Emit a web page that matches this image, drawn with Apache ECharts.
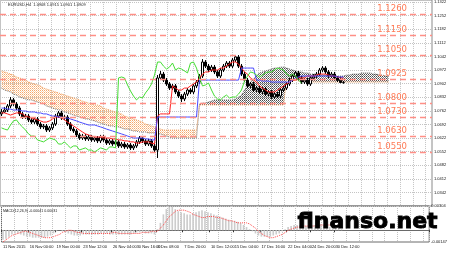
<!DOCTYPE html>
<html><head><meta charset="utf-8">
<script src="https://cdn.jsdelivr.net/npm/echarts@6/dist/echarts.min.js"></script>
<style>html,body{margin:0;padding:0;background:#fff}#c{width:450px;height:253px}</style>
</head><body><div id="c"></div>
<script>
// ---- price candles (EURUSD H4) ----
const open = [1.0746,1.0756,1.0766,1.0787,1.0818,1.0797,1.0776,1.0746,1.0730,1.0735,
1.0715,1.0704,1.0720,1.0694,1.0679,1.0684,1.0663,1.0674,1.0694,1.0735,
1.0751,1.0725,1.0730,1.0694,1.0668,1.0658,1.0638,1.0622,1.0632,1.0617,
1.0627,1.0612,1.0622,1.0607,1.0627,1.0612,1.0596,1.0607,1.0591,1.0602,
1.0581,1.0591,1.0576,1.0586,1.0571,1.0581,1.0602,1.0622,1.0607,1.0591,
1.0607,1.0581,1.0560,1.0931,1.0951,1.0920,1.0900,1.0879,1.0890,1.0859,
1.0838,1.0823,1.0848,1.0869,1.0859,1.0890,1.0910,1.0941,1.1013,1.0992,
1.0972,1.0987,1.0962,1.0941,1.0972,1.0992,1.1008,1.0992,1.1023,1.1039,
1.0992,1.0951,1.0920,1.0890,1.0900,1.0869,1.0879,1.0859,1.0874,1.0848,
1.0859,1.0833,1.0848,1.0838,1.0869,1.0879,1.0900,1.0920,1.0941,1.0957,
1.0931,1.0910,1.0920,1.0900,1.0931,1.0941,1.0951,1.0972,1.0982,1.0962,
1.0941,1.0951,1.0931,1.0920,1.0908];
const close = [1.0756,1.0766,1.0787,1.0818,1.0797,1.0776,1.0746,1.0730,1.0735,1.0715,
1.0704,1.0720,1.0694,1.0679,1.0684,1.0663,1.0674,1.0694,1.0735,1.0751,
1.0725,1.0730,1.0694,1.0668,1.0658,1.0638,1.0622,1.0632,1.0617,1.0627,
1.0612,1.0622,1.0607,1.0627,1.0612,1.0596,1.0607,1.0591,1.0602,1.0581,
1.0591,1.0576,1.0586,1.0571,1.0581,1.0602,1.0622,1.0607,1.0591,1.0607,
1.0581,1.0560,1.0931,1.0951,1.0920,1.0900,1.0879,1.0890,1.0859,1.0838,
1.0823,1.0848,1.0869,1.0859,1.0890,1.0910,1.0941,1.1013,1.0992,1.0972,
1.0987,1.0962,1.0941,1.0972,1.0992,1.1008,1.0992,1.1023,1.1039,1.0992,
1.0951,1.0920,1.0890,1.0900,1.0869,1.0879,1.0859,1.0874,1.0848,1.0859,
1.0833,1.0848,1.0838,1.0869,1.0879,1.0900,1.0920,1.0941,1.0957,1.0931,
1.0910,1.0920,1.0900,1.0931,1.0941,1.0951,1.0972,1.0982,1.0962,1.0941,
1.0951,1.0931,1.0920,1.0908,1.0909];
const high = [1.0771,1.0782,1.0797,1.0833,1.0828,1.0807,1.0787,1.0756,1.0746,1.0746,
1.0725,1.0730,1.0730,1.0704,1.0694,1.0694,1.0684,1.0704,1.0746,1.0761,
1.0761,1.0740,1.0740,1.0704,1.0679,1.0668,1.0648,1.0643,1.0643,1.0638,
1.0638,1.0632,1.0632,1.0638,1.0638,1.0622,1.0617,1.0617,1.0612,1.0612,
1.0602,1.0602,1.0596,1.0596,1.0591,1.0612,1.0632,1.0632,1.0617,1.0617,
1.0617,1.0591,1.0946,1.0967,1.0962,1.0931,1.0910,1.0900,1.0900,1.0869,
1.0848,1.0859,1.0879,1.0879,1.0900,1.0920,1.0951,1.1028,1.1023,1.1003,
1.0998,1.0998,1.0972,1.0982,1.1003,1.1018,1.1018,1.1034,1.1049,1.1049,
1.1003,1.0962,1.0931,1.0910,1.0910,1.0890,1.0890,1.0885,1.0885,1.0869,
1.0869,1.0859,1.0859,1.0879,1.0890,1.0910,1.0931,1.0951,1.0967,1.0967,
1.0941,1.0931,1.0931,1.0941,1.0951,1.0962,1.0982,1.0992,1.0992,1.0972,
1.0962,1.0962,1.0941,1.0936,1.0915];
const low = [1.0735,1.0751,1.0756,1.0776,1.0787,1.0766,1.0735,1.0720,1.0720,1.0704,
1.0694,1.0694,1.0684,1.0668,1.0668,1.0653,1.0653,1.0663,1.0684,1.0725,
1.0715,1.0715,1.0684,1.0658,1.0648,1.0627,1.0612,1.0612,1.0607,1.0607,
1.0602,1.0602,1.0596,1.0596,1.0602,1.0586,1.0586,1.0581,1.0581,1.0571,
1.0571,1.0566,1.0566,1.0560,1.0560,1.0571,1.0591,1.0596,1.0581,1.0581,
1.0571,1.0550,1.0519,1.0920,1.0910,1.0890,1.0869,1.0869,1.0848,1.0828,
1.0807,1.0812,1.0838,1.0848,1.0848,1.0879,1.0900,1.0931,1.0982,1.0962,
1.0962,1.0951,1.0931,1.0931,1.0962,1.0982,1.0982,1.0982,1.1013,1.0982,
1.0941,1.0910,1.0879,1.0879,1.0859,1.0859,1.0848,1.0848,1.0838,1.0838,
1.0823,1.0823,1.0828,1.0828,1.0859,1.0869,1.0890,1.0910,1.0931,1.0920,
1.0900,1.0900,1.0890,1.0890,1.0920,1.0931,1.0941,1.0962,1.0951,1.0931,
1.0931,1.0920,1.0910,1.0904,1.0901];

// ---- Ichimoku ----
const tenkan = [1.0751,1.0751,1.0746,1.0740,1.0746,1.0751,1.0751,1.0746,1.0735,1.0730,
1.0725,1.0720,1.0715,1.0710,1.0704,1.0704,1.0710,1.0720,1.0730,1.0730,
1.0725,1.0715,1.0704,1.0694,1.0684,1.0674,1.0663,1.0653,1.0643,1.0638,
1.0632,1.0627,1.0627,1.0627,1.0622,1.0622,1.0622,1.0617,1.0617,1.0612,
1.0612,1.0607,1.0607,1.0602,1.0602,1.0596,1.0596,1.0602,1.0602,1.0602,
1.0596,1.0591,1.0735,1.0746,1.0746,1.0746,1.0746,1.0890,1.0879,1.0869,
1.0869,1.0879,1.0879,1.0890,1.0900,1.0910,1.0931,1.0951,1.0962,1.0962,
1.0972,1.0972,1.0972,1.0982,1.0982,1.0992,1.1003,1.1013,1.1013,1.1003,
1.0982,1.0962,1.0951,1.0931,1.0920,1.0910,1.0890,1.0879,1.0869,1.0859,
1.0859,1.0859,1.0869,1.0879,1.0890,1.0900,1.0910,1.0920,1.0920,1.0931,
1.0931,1.0931,1.0941,1.0941,1.0941,1.0946,1.0951,1.0951,1.0951,1.0946,
1.0941,1.0941,1.0936,1.0931,1.0931];
const kijun = [1.0776,1.0776,1.0771,1.0771,1.0766,1.0766,1.0766,1.0761,1.0761,1.0756,
1.0756,1.0756,1.0751,1.0751,1.0746,1.0746,1.0740,1.0735,1.0735,1.0730,
1.0730,1.0725,1.0725,1.0720,1.0715,1.0710,1.0704,1.0699,1.0694,1.0689,
1.0689,1.0689,1.0684,1.0679,1.0674,1.0668,1.0663,1.0658,1.0653,1.0648,
1.0643,1.0638,1.0632,1.0627,1.0622,1.0622,1.0622,1.0622,1.0617,1.0617,
1.0612,1.0612,1.0730,1.0730,1.0730,1.0730,1.0730,1.0730,1.0730,1.0730,
1.0730,1.0730,1.0730,1.0730,1.0730,1.0730,1.0920,1.0920,1.0920,1.0920,
1.0920,1.0920,1.0920,1.0920,1.0920,1.0920,1.0920,1.0920,1.0920,1.0920,
1.0982,1.0982,1.0982,1.0982,1.0982,1.0920,1.0920,1.0915,1.0915,1.0915,
1.0910,1.0910,1.0910,1.0910,1.0910,1.0910,1.0910,1.0920,1.0931,1.0936,
1.0941,1.0941,1.0941,1.0941,1.0941,1.0941,1.0941,1.0941,1.0941,1.0941,
1.0941,1.0941,1.0936,1.0936,1.0936];
const chikou = [1.0674,1.0668,1.0663,1.0689,1.0710,1.0715,1.0694,1.0679,1.0663,1.0643,
1.0632,1.0632,1.0612,1.0607,1.0602,1.0612,1.0622,1.0617,1.0612,1.0591,
1.0591,1.0602,1.0586,1.0571,1.0581,1.0581,1.0560,1.0566,1.0571,1.0560,
1.0560,1.0550,1.0560,1.0571,1.0566,1.0560,1.0576,1.0576,1.0571,1.0931,
1.0936,1.0931,1.0895,1.0864,1.0838,1.0818,1.0833,1.0828,1.0854,1.0874,
1.0900,1.0946,1.1013,1.1013,1.0992,1.0977,1.0987,1.1008,1.0972,1.0982,
1.0977,1.0967,1.0957,1.1008,1.1013,1.0982,1.0931,1.0890,1.0895,1.0905,
1.0869,1.0838,1.0823,1.0818,1.0833,1.0843,1.0828,1.0833,1.0833,1.0848,
1.0869,1.0915,1.0941,1.0962,1.0957,1.0946,1.0936,1.0946,1.0957,1.0962,
1.0962,1.0972,1.0982,1.0977,1.0972,1.0951,1.0941,1.0951,1.0941,1.0920,
1.0905];
const spanA = [1.0879,1.0869,1.0864,1.0859,1.0848,1.0843,1.0833,1.0828,1.0823,1.0818,
1.0818,1.0812,1.0807,1.0802,1.0797,1.0787,1.0782,1.0776,1.0771,1.0766,
1.0766,1.0756,1.0751,1.0746,1.0740,1.0735,1.0730,1.0725,1.0720,1.0720,
1.0715,1.0710,1.0704,1.0699,1.0694,1.0689,1.0684,1.0684,1.0679,1.0679,
1.0674,1.0668,1.0668,1.0663,1.0658,1.0658,1.0653,1.0653,1.0653,1.0648,
1.0648,1.0648,1.0643,1.0643,1.0638,1.0632,1.0627,1.0622,1.0622,1.0622,
1.0622,1.0622,1.0622,1.0622,1.0622,1.0622,1.0797,1.0802,1.0802,1.0807,
1.0812,1.0818,1.0818,1.0818,1.0818,1.0818,1.0818,1.0818,1.0823,1.0833,
1.0843,1.0869,1.0890,1.0910,1.0926,1.0941,1.0957,1.0962,1.0967,1.0972,
1.0977,1.0982,1.0982,1.0987,1.0987,1.0982,1.0977,1.0972,1.0967,1.0962,
1.0962,1.0957,1.0957,1.0951,1.0951,1.0951,1.0946,1.0946,1.0946,1.0946,
1.0941,1.0941,1.0941,1.0941,1.0941,1.0946,1.0946,1.0951,1.0951,1.0951,
1.0957,1.0957,1.0957,1.0957,1.0951,1.0951,1.0946,1.0946,1.0941,1.0941];
const spanB = [1.0967,1.0962,1.0957,1.0951,1.0946,1.0936,1.0931,1.0926,1.0920,1.0910,
1.0905,1.0900,1.0895,1.0890,1.0879,1.0874,1.0869,1.0864,1.0859,1.0854,
1.0848,1.0843,1.0838,1.0833,1.0828,1.0823,1.0818,1.0812,1.0807,1.0802,
1.0797,1.0792,1.0792,1.0787,1.0776,1.0771,1.0766,1.0761,1.0756,1.0751,
1.0746,1.0735,1.0730,1.0725,1.0720,1.0715,1.0710,1.0704,1.0694,1.0689,
1.0684,1.0679,1.0674,1.0668,1.0663,1.0663,1.0663,1.0663,1.0663,1.0663,
1.0663,1.0663,1.0663,1.0663,1.0663,1.0663,1.0792,1.0792,1.0792,1.0792,
1.0792,1.0792,1.0792,1.0792,1.0792,1.0792,1.0792,1.0792,1.0792,1.0792,
1.0792,1.0792,1.0792,1.0792,1.0792,1.0792,1.0792,1.0792,1.0792,1.0792,
1.0792,1.0792,1.0792,1.0792,1.0792,1.0920,1.0920,1.0920,1.0920,1.0915,
1.0915,1.0915,1.0915,1.0910,1.0910,1.0910,1.0910,1.0910,1.0910,1.0910,
1.0910,1.0910,1.0910,1.0910,1.0910,1.0910,1.0910,1.0910,1.0910,1.0910,
1.0910,1.0910,1.0910,1.0910,1.0910,1.0910,1.0910,1.0910,1.0910,1.0910];

// ---- MACD(12,26,9) ----
const macdMain = [-0.00119,-0.00106,-0.00080,-0.00053,-0.00040,-0.00040,-0.00053,-0.00066,-0.00080,-0.00080,
-0.00093,-0.00093,-0.00093,-0.00093,-0.00093,-0.00080,-0.00066,-0.00040,-0.00013,0.00000,
-0.00013,-0.00027,-0.00040,-0.00053,-0.00066,-0.00066,-0.00066,-0.00053,-0.00053,-0.00053,
-0.00053,-0.00053,-0.00053,-0.00040,-0.00040,-0.00040,-0.00053,-0.00053,-0.00053,-0.00053,
-0.00053,-0.00053,-0.00053,-0.00053,-0.00040,-0.00027,-0.00027,-0.00027,-0.00040,-0.00040,
-0.00040,-0.00053,0.00013,0.00093,0.00199,0.00265,0.00292,0.00292,0.00265,0.00239,
0.00225,0.00212,0.00199,0.00199,0.00212,0.00225,0.00239,0.00252,0.00239,0.00225,
0.00212,0.00199,0.00186,0.00172,0.00159,0.00146,0.00133,0.00119,0.00119,0.00106,
0.00093,0.00066,0.00040,0.00013,-0.00013,-0.00040,-0.00066,-0.00080,-0.00080,-0.00080,
-0.00080,-0.00066,-0.00053,-0.00040,-0.00013,0.00013,0.00040,0.00053,0.00066,0.00066,
0.00066,0.00066,0.00053,0.00053,0.00066,0.00066,0.00080,0.00080,0.00066,0.00053,
0.00040,0.00040,0.00027,0.00027,0.00013];
const macdSignal = [-0.00146,-0.00119,-0.00093,-0.00066,-0.00053,-0.00040,-0.00027,-0.00013,-0.00013,-0.00027,
-0.00040,-0.00053,-0.00066,-0.00080,-0.00093,-0.00093,-0.00093,-0.00080,-0.00066,-0.00053,
-0.00027,-0.00013,0.00000,0.00000,-0.00013,-0.00027,-0.00027,-0.00040,-0.00040,-0.00040,
-0.00040,-0.00040,-0.00040,-0.00040,-0.00040,-0.00040,-0.00040,-0.00027,-0.00027,-0.00040,
-0.00040,-0.00040,-0.00040,-0.00040,-0.00040,-0.00040,-0.00040,-0.00027,-0.00027,-0.00027,
-0.00013,-0.00013,-0.00013,0.00027,0.00066,0.00119,0.00172,0.00199,0.00239,0.00252,
0.00252,0.00252,0.00239,0.00225,0.00199,0.00186,0.00172,0.00159,0.00159,0.00172,
0.00172,0.00172,0.00159,0.00159,0.00146,0.00133,0.00119,0.00119,0.00106,0.00093,
0.00093,0.00093,0.00093,0.00080,0.00053,0.00027,-0.00013,-0.00040,-0.00066,-0.00080,
-0.00093,-0.00093,-0.00080,-0.00066,-0.00053,-0.00027,0.00000,0.00013,0.00027,0.00040,
0.00040,0.00053,0.00053,0.00053,0.00053,0.00053,0.00053,0.00066,0.00066,0.00066,
0.00066,0.00066,0.00053,0.00053,0.00053];

// ---- levels, axes, labels ----
const levels = [1.1260, 1.1150, 1.1050, 1.0925, 1.0800, 1.0730, 1.0630, 1.0550];
const priceMin = 1.0272, priceMax = 1.1332;
const tickBase = 1.0285, tickStep = 0.0070;
const macdMin = -0.00147, macdMax = 0.00304;
const slotCount = 144;
const timeLabels = ['11 Nov 2015','16 Nov 00:00','19 Nov 00:00','23 Nov 12:00','26 Nov 04:00','30 Nov 16:00','3 Dec 08:00','7 Dec 20:00','10 Dec 12:00','15 Dec 04:00','17 Dec 16:00','22 Dec 04:00','24 Dec 20:00','30 Dec 12:00'];
const labelSlots = [0,9,18,27,37,45,52,61,70,78,87,96,104,112];
const symbolName = 'EURUSD,H4';
const macdTitle = 'MACD(12,26,9) -0.00041 0.00031';
const watermark = 'finanso.net';

// ---- build ----
const categories = Array.from({length: slotCount}, () => '');
labelSlots.forEach((s, i) => { categories[s] = timeLabels[i]; });
const candles = open.map((o, i) => [o, close[i], low[i], high[i]]);
const r4 = v => Math.round(v * 10000) / 10000;
const bearBase = [], bearDiff = [], bullBase = [], bullDiff = [];
spanA.forEach((a, i) => {
  const b = spanB[i];
  if (b >= a) { bearBase.push(a); bearDiff.push(r4(b - a)); bullBase.push(null); bullDiff.push(null); }
  else { bullBase.push(b); bullDiff.push(r4(a - b)); bearBase.push(null); bearDiff.push(null); }
});
function pattern(pix, w, h) {
  const c = document.createElement('canvas'); c.width = w; c.height = h;
  const ctx = c.getContext('2d');
  pix.forEach(p => { ctx.fillStyle = p[2]; ctx.fillRect(p[0], p[1], 1, 1); });
  return { image: c, repeat: 'repeat' };
}
const orangeFill = pattern([[0,0,'#f4a86c'],[1,1,'#fad3ae']], 2, 2);
const grayFill = pattern([[0,0,'#4a4a4a'],[1,1,'#808080']], 2, 2);
const last = close.length - 1;
const header = symbolName + '  ' + [open[last], high[last], low[last], close[last]].map(v => v.toFixed(4)).join(' ');
const showLabel = (i, v) => v !== '';
const fontFam = '"Liberation Sans", Arial, sans-serif';

const chart = echarts.init(document.getElementById('c'), null, {renderer: 'canvas'});
const lineBase = {type: 'line', symbol: 'none', xAxisIndex: 0, yAxisIndex: 0, silent: true, animation: false};
chart.setOption({
  animation: false,
  backgroundColor: '#ffffff',
  grid: [
    {left: 0, right: 18, top: 0, height: 206, show: true, borderColor: '#8a8a8a', borderWidth: 1},
    {left: 0, right: 18, top: 206, height: 36, show: true, borderColor: '#6a6a6a', borderWidth: 1}
  ],
  xAxis: [
    {type: 'category', gridIndex: 0, data: categories, boundaryGap: true, axisLine: {show: false}, axisTick: {show: false}, axisLabel: {show: false}, splitLine: {show: false}},
    {type: 'value', gridIndex: 0, min: -0.12, max: 33.37, interval: 1, position: 'top', axisLine: {show: false}, axisTick: {show: false}, axisLabel: {show: false}, splitLine: {show: true, lineStyle: {type: 'dotted', color: '#c4c4c4', width: 1}}},
    {type: 'category', gridIndex: 1, data: categories, boundaryGap: true, axisLine: {show: true, lineStyle: {color: '#6a6a6a'}},
      axisTick: {show: true, interval: showLabel, length: 2, lineStyle: {color: '#333'}},
      axisLabel: {show: true, interval: showLabel, align: 'left', fontSize: 4, color: '#111', margin: 3, fontFamily: fontFam}, splitLine: {show: false}},
    {type: 'value', gridIndex: 1, min: -0.12, max: 33.37, interval: 1, position: 'top', axisLine: {show: false}, axisTick: {show: false}, axisLabel: {show: false}, splitLine: {show: true, lineStyle: {type: 'dotted', color: '#c4c4c4', width: 1}}}
  ],
  yAxis: [
    {type: 'value', gridIndex: 0, min: priceMin, max: priceMax, position: 'left', axisLine: {show: false}, axisTick: {show: false}, axisLabel: {show: false}, splitLine: {show: false}},
    {type: 'value', gridIndex: 0, min: priceMin - tickBase, max: priceMax - tickBase, interval: tickStep, position: 'right',
      axisLine: {show: false}, axisTick: {show: false},
      axisLabel: {show: true, showMinLabel: false, showMaxLabel: false, fontSize: 4, color: '#111', margin: 2, fontFamily: fontFam, formatter: v => (v + tickBase).toFixed(4)},
      splitLine: {show: true, lineStyle: {type: 'dotted', color: '#c4c4c4', width: 1}}},
    {type: 'value', gridIndex: 1, min: macdMin, max: macdMax, interval: macdMax - macdMin, position: 'right',
      axisLine: {show: false}, axisTick: {show: false}, splitLine: {show: false},
      axisLabel: {show: true, fontSize: 4, color: '#111', margin: 2, fontFamily: fontFam, verticalAlign: 'middle',
        formatter: v => Math.abs(v) < 1e-9 ? '0.00' : v.toFixed(5)}}
  ],
  series: [
    Object.assign({}, lineBase, {name: 'bearBase', data: bearBase, stack: 'bear', lineStyle: {opacity: 0}, z: 1}),
    Object.assign({}, lineBase, {name: 'bearKumo', data: bearDiff, stack: 'bear', lineStyle: {opacity: 0}, areaStyle: {color: orangeFill, opacity: 1}, z: 1}),
    Object.assign({}, lineBase, {name: 'bullBase', data: bullBase, stack: 'bull', lineStyle: {opacity: 0}, z: 1}),
    Object.assign({}, lineBase, {name: 'bullKumo', data: bullDiff, stack: 'bull', lineStyle: {opacity: 0}, areaStyle: {color: grayFill, opacity: 1}, z: 1}),
    Object.assign({}, lineBase, {name: 'Senkou A', data: spanA, lineStyle: {color: '#6e6e6e', width: 1, type: 'dotted'}, z: 2}),
    Object.assign({}, lineBase, {name: 'Senkou B', data: spanB, lineStyle: {color: '#f0a060', width: 1, type: 'dotted'}, z: 2}),
    {type: 'candlestick', name: 'EURUSD', xAxisIndex: 0, yAxisIndex: 0, data: candles, barWidth: '62%', silent: true, z: 3,
      itemStyle: {color: '#ffffff', color0: '#000000', borderColor: '#000000', borderColor0: '#000000', borderWidth: 1}},
    Object.assign({}, lineBase, {name: 'Tenkan', data: tenkan, lineStyle: {color: '#ff2020', width: 1}, z: 4}),
    Object.assign({}, lineBase, {name: 'Kijun', data: kijun, lineStyle: {color: '#4a4aff', width: 1}, z: 4}),
    Object.assign({}, lineBase, {name: 'Chikou', data: chikou, lineStyle: {color: '#44dd33', width: 1}, z: 4}),
    Object.assign({}, lineBase, {name: 'levels', data: [], z: 5,
      markLine: {silent: true, symbol: ['none', 'none'], animation: false, precision: 4,
        lineStyle: {color: '#ff8f86', type: [6, 4], width: 1.4},
        label: {show: true, position: 'insideEndTop', formatter: p => (+p.value).toFixed(4), color: '#ff7a55', fontSize: 8.5, fontFamily: '"DejaVu Sans", sans-serif', padding: [0, 24, 0, 0], distance: 1},
        data: levels.map(v => ({yAxis: v}))}}),
    Object.assign({}, lineBase, {name: 'levelTags', data: [], z: 6,
      markLine: {silent: true, symbol: ['none', 'none'], animation: false, precision: 4,
        lineStyle: {opacity: 0},
        label: {show: true, position: 'end', formatter: p => (+p.value).toFixed(4), color: '#ffffff', backgroundColor: '#ff2626', fontSize: 4, fontFamily: fontFam, padding: [1, 2, 0, 2], distance: 1},
        data: levels.map(v => ({yAxis: v}))}}),
    Object.assign({}, lineBase, {name: 'bidTag', data: [], z: 6,
      markLine: {silent: true, symbol: ['none', 'none'], animation: false, precision: 4,
        lineStyle: {opacity: 0},
        label: {show: true, position: 'end', formatter: p => (+p.value).toFixed(4), color: '#ffffff', backgroundColor: '#000000', fontSize: 4, fontFamily: fontFam, padding: [1, 2, 0, 2], distance: 1},
        data: [{yAxis: close[last]}]}}),
    {type: 'bar', name: 'MACD', xAxisIndex: 2, yAxisIndex: 2, data: macdMain, barWidth: '55%', silent: true, itemStyle: {color: '#cccccc'}, z: 2},
    {type: 'line', name: 'Signal', xAxisIndex: 2, yAxisIndex: 2, data: macdSignal, symbol: 'none', silent: true, lineStyle: {color: '#ff4a4a', width: 1, type: 'dotted'}, z: 3}
  ],
  graphic: [
    {type: 'text', left: 8, top: 3, z: 50, style: {text: header, fill: '#222', font: '4px ' + fontFam}},
    {type: 'text', left: 3, top: 209, z: 50, style: {text: macdTitle, fill: '#222', font: '3.6px ' + fontFam}},
    {type: 'text', left: 297, top: 211, z: 100, style: {text: watermark, fill: '#000', stroke: '#000', lineWidth: 0.9, font: 'bold 22px "DejaVu Sans", sans-serif'}}
  ]
});
</script>
</body></html>
